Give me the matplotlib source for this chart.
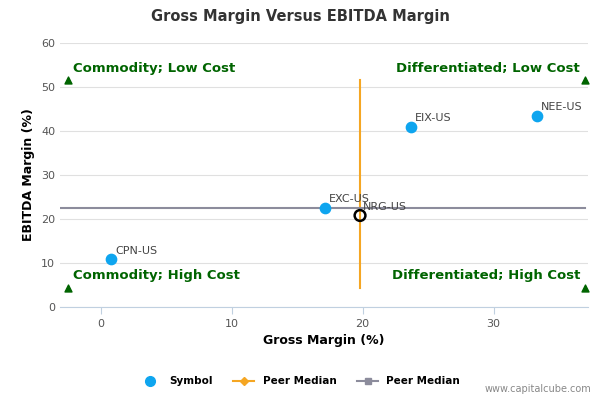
import matplotlib
matplotlib.use("Agg")
import matplotlib.pyplot as plt
from matplotlib.lines import Line2D

symbols = ["CPN-US", "EXC-US", "EIX-US", "NEE-US"]
gross = [0.8, 17.1, 23.7, 33.3]
ebitda = [10.8, 22.5, 40.9, 43.5]
focus_name = "NRG-US"
focus_x, focus_y = 19.8, 20.8
median_x = 19.8
median_y = 22.5
quad_labels = ["Commodity; Low Cost", "Differentiated; Low Cost",
               "Commodity; High Cost", "Differentiated; High Cost"]

fig = plt.figure(figsize=(6, 4), dpi=100)
ax = fig.add_axes([0.1, 0.2325, 0.88, 0.66])
xmin, xmax = -3.1, 37.2
ax.set_xlim(xmin, xmax)
ax.set_ylim(0, 60)
ax.set_yticks(range(0, 61, 10))
ax.set_xticks([0, 10, 20, 30])
ax.grid(axis="y", color="#e0e0e0", lw=0.8)
ax.set_axisbelow(True)
for s in ["top", "right", "left"]:
    ax.spines[s].set_visible(False)
ax.spines["bottom"].set_color("#c0d0e0")
ax.tick_params(labelsize=8, colors="#555555", length=0)
ax.tick_params(axis="x", length=5, color="#c0d0e0")

ax.plot([median_x, median_x], [4.3, 51.5], color="#f5a623", lw=1.5, zorder=2)
ax.plot([xmin, 37], [median_y, median_y], color="#8c8c9c", lw=1.5, zorder=2)

ax.scatter(gross, ebitda, s=55, color="#0ea5ef", zorder=3)
for n, x, y in zip(symbols, gross, ebitda):
    ax.annotate(n, (x, y), xytext=(3, 4), textcoords="offset points", fontsize=8, color="#444444")
ax.scatter([focus_x], [focus_y], s=60, facecolor="none", edgecolor="black", lw=1.8, zorder=4)
ax.annotate(focus_name, (focus_x, focus_y), xytext=(2, 4), textcoords="offset points", fontsize=8, color="#444444")

tx = [-2.5, 37, -2.5, 37]
ty = [51.5, 51.5, 4.3, 4.3]
ax.scatter(tx, ty, marker="^", color="#006400", s=25, zorder=3, clip_on=False)
green = "#006400"
ax.text(-2.1, 53.5, quad_labels[0], color=green, fontsize=9.5, fontweight="bold", ha="left")
ax.text(36.6, 53.5, quad_labels[1], color=green, fontsize=9.5, fontweight="bold", ha="right")
ax.text(-2.1, 6.3, quad_labels[2], color=green, fontsize=9.5, fontweight="bold", ha="left")
ax.text(36.6, 6.3, quad_labels[3], color=green, fontsize=9.5, fontweight="bold", ha="right")

ax.set_xlabel("Gross Margin (%)", fontsize=9, fontweight="bold")
ax.set_ylabel("EBITDA Margin (%)", fontsize=9, fontweight="bold")
fig.text(0.5, 0.96, "Gross Margin Versus EBITDA Margin", ha="center", va="center", fontsize=10.5,
         fontweight="bold", color="#333333")

handles = [Line2D([], [], marker="o", color="#0ea5ef", ls="none", ms=7),
           Line2D([], [], marker="D", color="#f5a623", ms=4, lw=1.5),
           Line2D([], [], marker="s", color="#8c8c9c", ms=5, lw=1.5)]
fig.legend(handles, ["Symbol", "Peer Median", "Peer Median"], loc="center", bbox_to_anchor=(0.5, 0.047),
           ncol=3, frameon=False, prop={"size": 7.5, "weight": "bold"}, handlelength=2, columnspacing=2)
fig.text(0.985, 0.02, "www.capitalcube.com", ha="right", fontsize=7, color="#888888")
fig.savefig("out.png")
